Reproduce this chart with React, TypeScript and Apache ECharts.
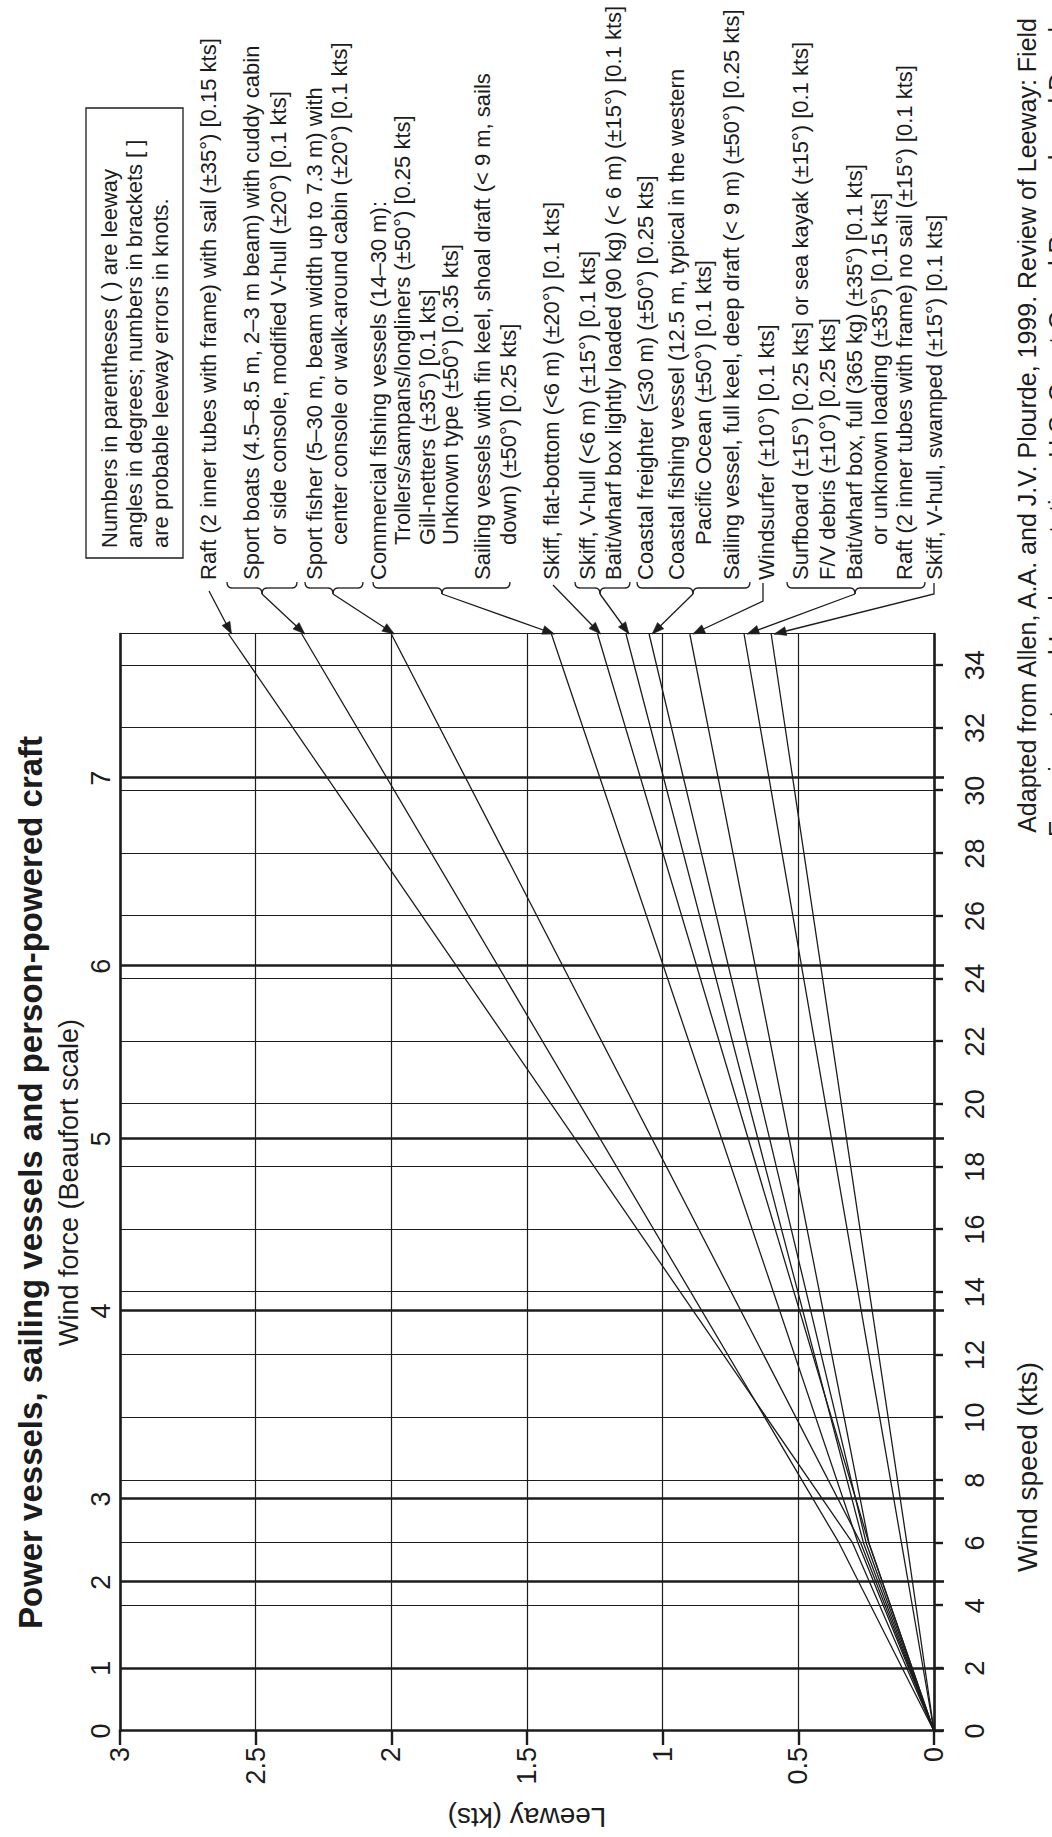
import React, { useEffect, useRef } from 'react';
import * as echarts from 'echarts';

// ---- axes ----
const windMax = 35;
const leewayMax = 3;
const windTicks = [0, 2, 4, 6, 8, 10, 12, 14, 16, 18, 20, 22, 24, 26, 28, 30, 32, 34];
const leewayTicks = [0, 0.5, 1, 1.5, 2, 2.5, 3];
const beaufortForce = [0, 1, 2, 3, 4, 5, 6, 7];
const beaufortKts = [0, 2, 4.75, 7.4, 13.4, 18.9, 24.4, 30.4];

// ---- leeway curves: [wind speed kts, leeway kts] ----
const raftWithSail = [[0, 0], [6, 0.3], [35, 2.6]];
const sportBoats = [[0, 0], [6, 0.35], [35, 2.33]];
const sportFisher = [[0, 0], [6, 0.27], [35, 2.0]];
const commercialAndShoalSail = [[0, 0], [6, 0.28], [35, 1.41]];
const skiffFlatBottom = [[0, 0], [6, 0.24], [35, 1.24]];
const skiffVHullAndBaitLight = [[0, 0], [6, 0.26], [35, 1.135]];
const coastalVessels = [[0, 0], [6, 0.25], [35, 1.05]];
const windsurfer = [[0, 0], [6, 0.24], [35, 0.9]];
const surfboardGroup = [[0, 0], [6, 0.12], [35, 0.7]];
const skiffSwamped = [[0, 0], [6, 0.1], [35, 0.6]];

const curves = [
  raftWithSail, sportBoats, sportFisher, commercialAndShoalSail, skiffFlatBottom,
  skiffVHullAndBaitLight, coastalVessels, windsurfer, surfboardGroup, skiffSwamped,
];

// ---- craft descriptions ----
const craftLabels = [
  { text: 'Raft (2 inner tubes with frame) with sail (\u00b135\u00b0) [0.15 kts]', y: 208, indent: false },
  { text: 'Sport boats (4.5\u20138.5 m, 2\u20133 m beam) with cuddy cabin', y: 251, indent: false },
  { text: 'or side console, modified V-hull (\u00b120\u00b0) [0.1 kts]', y: 278, indent: true },
  { text: 'Sport fisher (5\u201330 m, beam width up to 7.3 m) with', y: 314, indent: false },
  { text: 'center console or walk-around cabin (\u00b120\u00b0) [0.1 kts]', y: 339, indent: true },
  { text: 'Commercial fishing vessels (14\u201330 m):', y: 378, indent: false },
  { text: 'Trollers/sampans/longliners (\u00b150\u00b0) [0.25 kts]', y: 402, indent: true },
  { text: 'Gill-netters (\u00b135\u00b0) [0.1 kts]', y: 427, indent: true },
  { text: 'Unknown type (\u00b150\u00b0) [0.35 kts]', y: 450, indent: true },
  { text: 'Sailing vessels with fin keel, shoal draft (< 9 m, sails', y: 482, indent: false },
  { text: 'down) (\u00b150\u00b0) [0.25 kts]', y: 508, indent: true },
  { text: 'Skiff, flat-bottom (<6 m) (\u00b120\u00b0) [0.1 kts]', y: 551, indent: false },
  { text: 'Skiff, V-hull (<6 m) (\u00b115\u00b0) [0.1 kts]', y: 587, indent: false },
  { text: 'Bait/wharf box lightly loaded (90 kg) (< 6 m) (\u00b115\u00b0) [0.1 kts]', y: 613, indent: false },
  { text: 'Coastal freighter (\u226430 m) (\u00b150\u00b0) [0.25 kts]', y: 645, indent: false },
  { text: 'Coastal fishing vessel (12.5 m, typical in the western', y: 676, indent: false },
  { text: 'Pacific Ocean (\u00b150\u00b0) [0.1 kts]', y: 703, indent: true },
  { text: 'Sailing vessel, full keel, deep draft (< 9 m) (\u00b150\u00b0) [0.25 kts]', y: 731, indent: false },
  { text: 'Windsurfer (\u00b110\u00b0) [0.1 kts]', y: 766, indent: false },
  { text: 'Surfboard (\u00b115\u00b0) [0.25 kts] or sea kayak (\u00b115\u00b0) [0.1 kts]', y: 800, indent: false },
  { text: 'F/V debris (\u00b110\u00b0) [0.25 kts]', y: 827, indent: false },
  { text: 'Bait/wharf box, full (365 kg) (\u00b135\u00b0) [0.1 kts]', y: 854, indent: false },
  { text: 'or unknown loading (\u00b135\u00b0) [0.15 kts]', y: 879, indent: true },
  { text: 'Raft (2 inner tubes with frame) no sail (\u00b115\u00b0) [0.1 kts]', y: 904, indent: false },
  { text: 'Skiff, V-hull, swamped (\u00b115\u00b0) [0.1 kts]', y: 934, indent: false },
];

const noteLines = [
  'Numbers in parentheses ( ) are leeway',
  'angles in degrees; numbers in brackets [ ]',
  'are probable leeway errors in knots.',
];

const titleText = 'Power vessels, sailing vessels and person-powered craft';
const beaufortTitle = 'Wind force (Beaufort scale)';
const windTitle = 'Wind speed (kts)';
const leewayTitle = 'Leeway (kts)';
const sourceLines = [
  'Adapted from Allen, A.A. and J.V. Plourde, 1999. Review of Leeway: Field',
  'Experiments and Implementation. U.S. Coast Guard Research and Development Center, Groton, CT.',
];

// ---- drawing constants (landscape frame, rotated onto the page) ----
const W = 1837;
const H = 1052;
const INK = '#1c1c1c';
const FONT = '"Liberation Sans", Arial, Helvetica, sans-serif';
const GRID = { left: 106, top: 120, width: 1097, height: 814 };
const TEXT_X = 1257;
const INDENT_X = 1292;

// braces: [top, bottom, cusp] in px along the label column
const braces = [
  [227, 297, 262],
  [305, 363, 333],
  [373, 510, 442],
  [575, 630, 600],
  [637, 750, 693],
  [787, 925, 855],
];

// leader start points for each curve, same order as curves
const leaderStarts: number[][][] = [
  [[1246, 209]],
  [[1243, 262]],
  [[1243, 333]],
  [[1243, 442]],
  [[1252, 553]],
  [[1243, 600]],
  [[1243, 693]],
  [[1254, 763], [1236, 763]],
  [[1243, 855]],
  [[1254, 934], [1243, 934]],
];

function braceElements(top: number, bottom: number, cusp: number) {
  const xe = 1255, xs = 1249, xc = 1243, r = 5;
  const st = { stroke: INK, lineWidth: 1.3, fill: null };
  return [
    { type: 'bezierCurve', shape: { x1: xe, y1: top, cpx1: xs, cpy1: top, x2: xs, y2: top + r }, style: st },
    { type: 'line', shape: { x1: xs, y1: top + r, x2: xs, y2: cusp - r }, style: st },
    { type: 'bezierCurve', shape: { x1: xs, y1: cusp - r, cpx1: xs, cpy1: cusp, x2: xc, y2: cusp }, style: st },
    { type: 'bezierCurve', shape: { x1: xc, y1: cusp, cpx1: xs, cpy1: cusp, x2: xs, y2: cusp + r }, style: st },
    { type: 'line', shape: { x1: xs, y1: cusp + r, x2: xs, y2: bottom - r }, style: st },
    { type: 'bezierCurve', shape: { x1: xs, y1: bottom - r, cpx1: xs, cpy1: bottom, x2: xe, y2: bottom }, style: st },
  ];
}

function arrowElements(points: number[][]) {
  const tip = points[points.length - 1];
  const from = points[points.length - 2];
  const dx = tip[0] - from[0];
  const dy = tip[1] - from[1];
  const len = Math.hypot(dx, dy) || 1;
  const ux = dx / len, uy = dy / len;
  const L = 12, hw = 4.5;
  const bx = tip[0] - ux * L, by = tip[1] - uy * L;
  return [
    { type: 'polyline', shape: { points }, style: { stroke: INK, lineWidth: 1.3, fill: null } },
    {
      type: 'polygon',
      shape: { points: [tip, [bx - uy * hw, by + ux * hw], [bx + uy * hw, by - ux * hw]] },
      style: { fill: INK, stroke: INK, lineWidth: 0.5 },
    },
  ];
}

function textEl(text: string, x: number, y: number, size: number, extra: any = {}) {
  return {
    type: 'text', x, y, silent: true, ...extra,
    style: {
      text, fontSize: size, fontFamily: FONT, fill: INK,
      align: extra.align || 'left', verticalAlign: 'middle', fontWeight: extra.fontWeight || 'normal',
    },
  };
}

export default function App() {
  const ref = useRef<HTMLDivElement>(null);

  useEffect(() => {
    const el = ref.current;
    if (!el) return;
    const chart = echarts.init(el, undefined, { renderer: 'svg', width: W, height: H });

    const axisLabelBase = { fontSize: 27, fontFamily: FONT, color: INK };

    const curveSeries = curves.map((data, i) => ({
      type: 'line',
      name: 'curve' + i,
      data,
      xAxisIndex: 0,
      yAxisIndex: 0,
      showSymbol: false,
      symbol: 'none',
      silent: true,
      z: 4,
      lineStyle: { color: INK, width: 1.3 },
    }));

    chart.setOption({
      animation: false,
      backgroundColor: '#ffffff',
      grid: { ...GRID, containLabel: false },
      xAxis: [
        {
          type: 'value', min: 0, max: windMax, interval: 2, position: 'bottom',
          axisLine: { show: true, onZero: false, lineStyle: { color: INK, width: 2.6 } },
          axisTick: { show: true, customValues: windTicks, length: 9, lineStyle: { color: INK, width: 2.4 } },
          axisLabel: { ...axisLabelBase, customValues: windTicks, margin: 27 },
          splitLine: { show: true, lineStyle: { color: INK, width: 1.2 } },
        },
        {
          type: 'value', min: 0, max: windMax, position: 'top',
          axisLine: { show: true, onZero: false, lineStyle: { color: INK, width: 2.6 } },
          axisTick: { show: false },
          axisLabel: {
            ...axisLabelBase,
            customValues: beaufortKts,
            margin: 6,
            formatter: (v: number) => String(beaufortForce[beaufortKts.indexOf(v)]),
          },
          splitLine: { show: false },
        },
        {
          type: 'value', min: 0, max: windMax, position: 'bottom',
          axisLine: { show: false },
          axisTick: { show: true, customValues: beaufortKts, length: 10, lineStyle: { color: INK, width: 2.6 } },
          axisLabel: { show: false },
          splitLine: { show: false },
        },
      ],
      yAxis: [
        {
          type: 'value', min: 0, max: leewayMax, interval: 0.1, position: 'left',
          axisLine: { show: true, onZero: false, lineStyle: { color: INK, width: 2.6 } },
          axisTick: { show: true, customValues: leewayTicks, length: 14, lineStyle: { color: INK, width: 2.4 } },
          axisLabel: { ...axisLabelBase, customValues: leewayTicks, margin: 16, formatter: (v: number) => String(v) },
          splitLine: { show: true, lineStyle: { color: INK, width: 1.2 } },
        },
        {
          type: 'value', min: 0, max: leewayMax, position: 'right',
          axisLine: { show: true, onZero: false, lineStyle: { color: INK, width: 1.2 } },
          axisTick: { show: false },
          axisLabel: { show: false },
          splitLine: { show: false },
        },
      ],
      series: [
        {
          type: 'line',
          name: 'beaufort',
          data: [],
          xAxisIndex: 0,
          yAxisIndex: 0,
          silent: true,
          z: 3,
          markLine: {
            silent: true,
            symbol: ['none', 'none'],
            label: { show: false },
            lineStyle: { color: INK, width: 2.6, type: 'solid' },
            data: beaufortKts.slice(1).map((k) => ({ xAxis: k })),
          },
        },
        ...curveSeries,
      ],
    });

    // annotation layer: labels, braces and leaders pointing at the curves' ends
    const graphics: any[] = [];

    graphics.push(textEl(titleText, GRID.left + GRID.width / 2, 30, 33, { align: 'center', fontWeight: 'bold' }));
    graphics.push(textEl(beaufortTitle, GRID.left + GRID.width / 2, 69, 27, { align: 'center' }));
    graphics.push(textEl(leewayTitle, 20, GRID.top + GRID.height / 2, 28, { align: 'center', rotation: Math.PI / 2 }));
    graphics.push(textEl(windTitle, 370, 1027, 28, { align: 'center' }));
    graphics.push(textEl(sourceLines[0], 1819, 1027, 25, { align: 'right' }));
    graphics.push(textEl(sourceLines[1], 1000, 1058, 25, { align: 'left' }));

    // note box
    graphics.push({
      type: 'rect', silent: true,
      shape: { x: 1279, y: 86, width: 450, height: 97 },
      style: { fill: '#ffffff', stroke: INK, lineWidth: 1.3 },
    });
    noteLines.forEach((t, i) => graphics.push(textEl(t, 1289, 109 + i * 25.5, 22)));

    craftLabels.forEach((l) => graphics.push(textEl(l.text, l.indent ? INDENT_X : TEXT_X, l.y, 22)));

    braces.forEach(([a, b, c]) => graphics.push(...braceElements(a, b, c)));

    curves.forEach((data, i) => {
      const end = data[data.length - 1];
      const tip = chart.convertToPixel({ xAxisIndex: 0, yAxisIndex: 0 }, end) as number[];
      const pts = [...leaderStarts[i], [tip[0], tip[1] + 3]];
      graphics.push(...arrowElements(pts));
    });

    chart.setOption({ graphic: graphics });

    return () => chart.dispose();
  }, []);

  return (
    <div
      style={{
        position: 'absolute', left: 0, top: 0, width: 1052, height: 1837,
        overflow: 'hidden', background: '#ffffff',
      }}
    >
      <div
        ref={ref}
        style={{
          position: 'absolute', left: 0, top: 0, width: W, height: H,
          transformOrigin: '0 0', transform: 'translate(0px, 1837px) rotate(-90deg)',
        }}
      />
    </div>
  );
}
